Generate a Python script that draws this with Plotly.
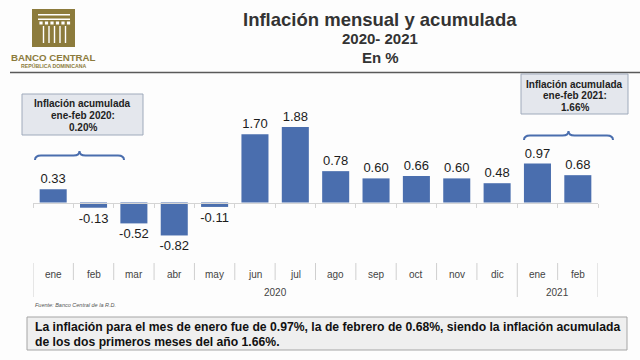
import plotly.graph_objects as go

# ---- data ----
months = ["ene", "feb", "mar", "abr", "may", "jun", "jul", "ago", "sep", "oct", "nov", "dic", "ene", "feb"]
years = ["2020"] * 12 + ["2021"] * 2
values = [0.33, -0.13, -0.52, -0.82, -0.11, 1.70, 1.88, 0.78, 0.60, 0.66, 0.60, 0.48, 0.97, 0.68]
title_lines = ["Inflación mensual y acumulada", "2020- 2021", "En %"]
box_2020 = ["Inflación acumulada", "ene-feb 2020:", "0.20%"]
box_2021 = ["Inflación acumulada", "ene-feb 2021:", "1.66%"]
note_lines = ["La inflación para el mes de enero fue de 0.97%, la de febrero de 0.68%, siendo la inflación acumulada",
              "de los dos primeros meses del año 1.66%."]
source = "Fuente: Banco Central de la R.D."

W, H = 640, 360
BAR = "#4A6EAE"
GOLD = "#8C7B3C"
FONT = "Liberation Sans, Arial, sans-serif"


def px(x):
    return x / W


def py(y):
    return 1 - y / H


xs = list(range(len(values)))

fig = go.Figure(go.Bar(
    x=xs, y=values, marker=dict(color=BAR, line=dict(width=0)), width=0.67,
    texttemplate="%{y:.2f}", textposition="outside", constraintext="none",
    textfont=dict(family=FONT, size=13, color="#1c1c1c"), cliponaxis=False,
    hoverinfo="skip"))

shapes = []
ann = []

# title
for txt, y, s in zip(title_lines, [19, 38.5, 57], [18.5, 15, 15]):
    ann.append(dict(text="<b>%s</b>" % txt, x=px(380), y=py(y), xref="paper", yref="paper",
                    showarrow=False, xanchor="center", yanchor="middle",
                    font=dict(family=FONT, size=s, color="#333333")))
# header rule
shapes.append(dict(type="line", xref="paper", yref="paper", x0=px(10), x1=px(640), y0=py(72.5), y1=py(72.5),
                   line=dict(color="#5a5a5a", width=1.5)))

# logo
shapes.append(dict(type="rect", xref="paper", yref="paper", x0=px(32), x1=px(75), y0=py(9), y1=py(47),
                   fillcolor=GOLD, line=dict(width=0), layer="above"))
for y0, y1 in [(14, 15.5), (18.5, 20)]:
    shapes.append(dict(type="rect", xref="paper", yref="paper", x0=px(38), x1=px(70), y0=py(y0), y1=py(y1),
                       fillcolor="white", line=dict(width=0), layer="above"))
for cx in [41, 46.5, 52, 57.5, 63, 68.5]:
    shapes.append(dict(type="rect", xref="paper", yref="paper", x0=px(cx - 1.6), x1=px(cx + 1.6),
                       y0=py(21.5), y1=py(24.5), fillcolor="white", line=dict(width=0), layer="above"))
for cx in [43.5, 49, 54.5, 60, 65.5]:
    shapes.append(dict(type="rect", xref="paper", yref="paper", x0=px(cx - 0.7), x1=px(cx + 0.7),
                       y0=py(26), y1=py(43), fillcolor="white", line=dict(width=0), layer="above"))
ann.append(dict(text="<b>BANCO CENTRAL</b>", x=px(53.5), y=py(58), xref="paper", yref="paper",
                showarrow=False, xanchor="center", yanchor="middle",
                font=dict(family=FONT, size=9.7, color=GOLD)))
ann.append(dict(text="<b>REPÚBLICA DOMINICANA</b>", x=px(53.5), y=py(66), xref="paper", yref="paper",
                showarrow=False, xanchor="center", yanchor="middle",
                font=dict(family=FONT, size=5.2, color=GOLD)))


# info boxes
def info_box(x0, x1, y0, y1, lines, ys):
    shapes.append(dict(type="rect", xref="paper", yref="paper", x0=px(x0), x1=px(x1), y0=py(y0), y1=py(y1),
                       fillcolor="#E4E7ED", line=dict(color="#9FAABB", width=1)))
    for t, y in zip(lines, ys):
        ann.append(dict(text="<b>%s</b>" % t, x=px((x0 + x1) / 2), y=py(y), xref="paper", yref="paper",
                        showarrow=False, xanchor="center", yanchor="middle",
                        font=dict(family=FONT, size=10, color="#222222")))


info_box(22, 143, 94, 135, box_2020, [104, 116, 127.5])
info_box(521, 628, 74, 114, box_2021, [84, 96, 107])


# braces
def brace(x0, x1, ytip, yflat, yend):
    xm = (x0 + x1) / 2
    r = 6
    pts = [
        ("M", [(x0, yend)]),
        ("Q", [(x0, yflat), (x0 + r, yflat)]),
        ("L", [(xm - r, yflat)]),
        ("Q", [(xm, yflat), (xm, ytip)]),
        ("Q", [(xm, yflat), (xm + r, yflat)]),
        ("L", [(x1 - r, yflat)]),
        ("Q", [(x1, yflat), (x1, yend)]),
    ]
    path = " ".join(c + " " + " ".join("%.5f,%.5f" % (px(a), py(b)) for a, b in p) for c, p in pts)
    shapes.append(dict(type="path", xref="paper", yref="paper", path=path,
                       line=dict(color=BAR, width=2)))


brace(35, 124, 151, 155.5, 160)
brace(524, 613, 131, 135.5, 140)

# category separators and labels (below the plot)
for i in range(len(values) + 1):
    major = i == 0 or i == len(values) or years[i] != years[i - 1]
    shapes.append(dict(type="line", xref="x", yref="paper", x0=i - 0.5, x1=i - 0.5,
                       y0=py(263), y1=py(297 if major else 280), line=dict(color="#CFCFCF", width=1)))
for i, m in enumerate(months):
    ann.append(dict(text=m, x=i, y=py(274.5), xref="x", yref="paper", showarrow=False,
                    xanchor="center", yanchor="middle", font=dict(family=FONT, size=10, color="#444444")))
for yr in sorted(set(years)):
    idx = [i for i, v in enumerate(years) if v == yr]
    ann.append(dict(text=yr, x=(idx[0] + idx[-1]) / 2, y=py(292), xref="x", yref="paper", showarrow=False,
                    xanchor="center", yanchor="middle", font=dict(family=FONT, size=10, color="#444444")))

# source
ann.append(dict(text="<i>%s</i>" % source, x=px(33), y=py(305), xref="paper", yref="paper", showarrow=False,
                xanchor="left", yanchor="middle", font=dict(family=FONT, size=5.5, color="#555555")))

# bottom note
shapes.append(dict(type="rect", xref="paper", yref="paper", x0=px(27), x1=px(627), y0=py(317), y1=py(350),
                   fillcolor="#EFEFEF", line=dict(color="#A5A5A5", width=1)))
for t, y in zip(note_lines, [327, 342]):
    ann.append(dict(text="<b>%s</b>" % t, x=px(33), y=py(y), xref="paper", yref="paper", showarrow=False,
                    xanchor="left", yanchor="middle", font=dict(family=FONT, size=12.2, color="#111111")))

fig.update_layout(
    width=W, height=H, margin=dict(l=0, r=0, t=0, b=0),
    paper_bgcolor="#FDFDFD", plot_bgcolor="rgba(0,0,0,0)", showlegend=False,
    shapes=shapes, annotations=ann, bargap=0.33,
    xaxis=dict(domain=[px(33), px(598)], range=[-0.5, len(values) - 0.5], anchor="free", position=py(202.5),
               showgrid=False, zeroline=False, showline=True, linecolor="#D4D4D4", linewidth=1,
               tickmode="array", tickvals=[i - 0.5 for i in range(len(values) + 1)], ticks="outside",
               ticklen=4, tickcolor="#D4D4D4", showticklabels=False),
    yaxis=dict(domain=[py(262), py(75)], range=[-1.48, 3.172], visible=False, showgrid=False, zeroline=False),
)

fig.write_html("out.html", config={"displayModeBar": False},
               post_script="document.body.style.margin='0';document.body.style.overflow='hidden';")
